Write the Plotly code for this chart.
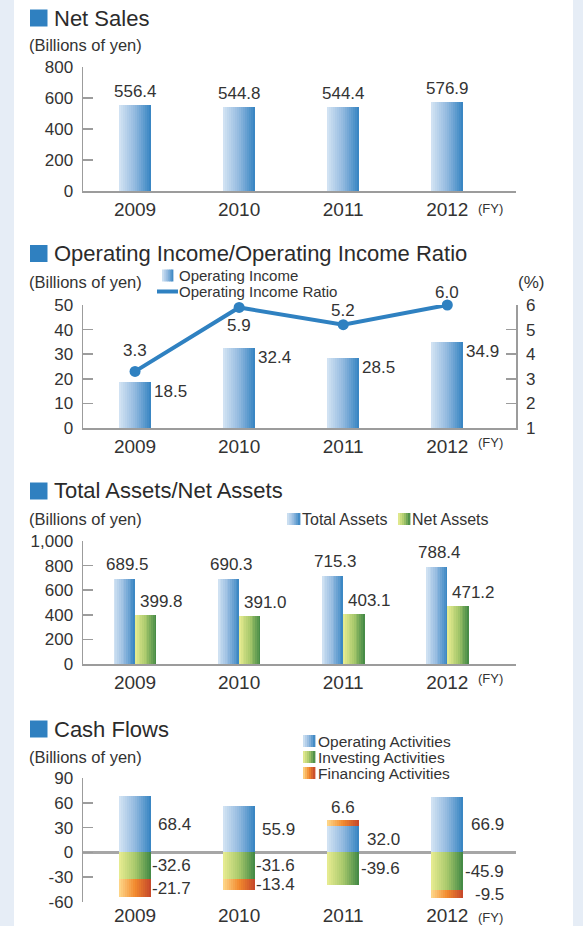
import plotly.graph_objects as go

W, H = 583, 926

# ---------------- data ----------------
years = ["2009", "2010", "2011", "2012"]
net_sales = [556.4, 544.8, 544.4, 576.9]
op_income = [18.5, 32.4, 28.5, 34.9]
op_ratio = [3.3, 5.9, 5.2, 6.0]
total_assets = [689.5, 690.3, 715.3, 788.4]
net_assets = [399.8, 391.0, 403.1, 471.2]
cf_operating = [68.4, 55.9, 32.0, 66.9]
cf_investing = [-32.6, -31.6, -39.6, -45.9]
cf_financing = [-21.7, -13.4, 6.6, -9.5]

titles = ["Net Sales", "Operating Income/Operating Income Ratio",
          "Total Assets/Net Assets", "Cash Flows"]
unit_label = "(Billions of yen)"
cf_ticks = [-60, -30, 0, 30, 60, 90]

# ---------------- style ----------------
FONT = "Liberation Sans"
TXT = "#333333"
AX = "#9c9c9c"
BLUE = ["#d5e5f4", "#92b9df", "#3483c1"]
GREEN = ["#e9ed92", "#a9c96c", "#3f8744"]
ORANGE = ["#fed98c", "#f28a2e", "#c4462a"]
LINE_BLUE = "#2f81c1"
ICON = "#2f80c0"
ratio_label_shift = [21, -18, 14, 13]


def px(x):
    return x / W


def py(y):
    return 1 - y / H


def hex2rgb(h):
    h = h.lstrip("#")
    return [int(h[i:i + 2], 16) for i in (0, 2, 4)]


def colour(stops, t):
    n = len(stops) - 1
    k = min(int(t * n), n - 1)
    f = t * n - k
    a, b = hex2rgb(stops[k]), hex2rgb(stops[k + 1])
    c = [round(a[j] + (b[j] - a[j]) * f) for j in range(3)]
    return "rgb(%d,%d,%d)" % tuple(c)


fig = go.Figure()


def grad_bar(x, y, base, xa, ya, off, width, stops, n=16):
    step = width / n
    for i in range(n):
        fig.add_trace(go.Bar(
            x=x, y=y, base=base, xaxis=xa, yaxis=ya,
            offset=off + i * step,
            width=step * 1.2 if i < n - 1 else step,
            marker=dict(color=colour(stops, (i + 0.5) / n), line=dict(width=0)),
            opacity=1, showlegend=False, hoverinfo="skip"))


annotations = []


def ann(text, x, y, xref="paper", yref="paper", size=17, xanchor="center",
        yanchor="middle", xshift=0, yshift=0, color=TXT):
    annotations.append(dict(text=text, x=x, y=y, xref=xref, yref=yref,
                            showarrow=False, xanchor=xanchor, yanchor=yanchor,
                            xshift=xshift, yshift=yshift,
                            font=dict(size=size, color=color, family=FONT)))


shapes = []


def grad_rect(x0, x1, y0, y1, stops, n=10):
    step = (x1 - x0) / n
    for i in range(n):
        shapes.append(dict(type="rect", xref="paper", yref="paper",
                           x0=px(x0 + i * step), x1=px(x0 + (i + 1) * step + 0.4),
                           y0=py(y1), y1=py(y0), line=dict(width=0),
                           fillcolor=colour(stops, (i + 0.5) / n)))


# background: white page with pale side strips
shapes.append(dict(type="rect", xref="paper", yref="paper", x0=px(14), x1=px(573),
                   y0=0, y1=1, fillcolor="white", line=dict(width=0), layer="below"))

# ---------------- chart 1: Net Sales ----------------
grad_bar(years, net_sales, 0, "x", "y", -0.155, 0.31, BLUE)
for i, v in enumerate(net_sales):
    ann(f"{v:.1f}", i, v, "x", "y", yanchor="bottom", yshift=2)

# ---------------- chart 2: Operating income ----------------
grad_bar(years, op_income, 0, "x2", "y2", -0.155, 0.31, BLUE)
for i, v in enumerate(op_income):
    ann(f"{v:.1f}", i + 0.155, v, "x2", "y2", xanchor="left", yanchor="top",
        xshift=1, yshift=2)
fig.add_trace(go.Scatter(
    x=years, y=op_ratio, xaxis="x2", yaxis="y5", mode="lines+markers",
    line=dict(color=LINE_BLUE, width=4),
    marker=dict(color=LINE_BLUE, size=11),
    cliponaxis=False, showlegend=False, hoverinfo="skip"))
for i, v in enumerate(op_ratio):
    ann(f"{v:.1f}", i, v, "x2", "y5", yshift=ratio_label_shift[i])

# ---------------- chart 3: Total / Net assets ----------------
grad_bar(years, total_assets, 0, "x3", "y3", -0.205, 0.205, BLUE, n=12)
grad_bar(years, net_assets, 0, "x3", "y3", 0.0, 0.205, GREEN, n=12)
for i, v in enumerate(total_assets):
    ann(f"{v:.1f}", i - 0.1, v, "x3", "y3", yanchor="bottom", xshift=3, yshift=3)
for i, v in enumerate(net_assets):
    ann(f"{v:.1f}", i, v, "x3", "y3", xanchor="left", yanchor="bottom",
        xshift=3, yshift=2)

# ---------------- chart 4: Cash flows ----------------
fin_base = [o if f > 0 else inv for o, inv, f in zip(cf_operating, cf_investing, cf_financing)]
grad_bar(years, cf_operating, 0, "x4", "y4", -0.155, 0.31, BLUE)
grad_bar(years, cf_investing, 0, "x4", "y4", -0.155, 0.31, GREEN)
grad_bar(years, cf_financing, fin_base, "x4", "y4", -0.155, 0.31, ORANGE)
for i, v in enumerate(cf_operating):
    ann(f"{v:.1f}", i + 0.56, v / 2, "x4", "y4", xanchor="right")
for i, v in enumerate(cf_investing):
    ann(f"{v:.1f}", i + 0.56, v / 2, "x4", "y4", xanchor="right")
for i, v in enumerate(cf_financing):
    if v > 0:
        ann(f"{v:.1f}", i, fin_base[i] + v, "x4", "y4", yanchor="bottom", yshift=1)
    else:
        ann(f"{v:.1f}", i + 0.56, fin_base[i] + v / 2, "x4", "y4", xanchor="right")

# ---------------- titles, units, legends ----------------
title_y = [18, 253.5, 491, 729]
unit_y = [45, 282, 519, 757]
for t, ty, uy in zip(titles, title_y, unit_y):
    shapes.append(dict(type="rect", xref="paper", yref="paper", x0=px(30), x1=px(47.5),
                       y0=py(ty + 8.5), y1=py(ty - 8.5), fillcolor=ICON, line=dict(width=0)))
    ann(t, px(52), py(ty), size=22, xanchor="left", color="#2b2b2b")
    ann(unit_label, px(27), py(uy), size=16.5, xanchor="left")

fy_y = [208, 442, 678, 917]
for fy in fy_y:
    ann("(FY)", px(476), py(fy), size=13, xanchor="left")

ann("(%)", px(531), py(282), size=17)

# chart 2 legend
grad_rect(162, 173, 269.5, 281.5, BLUE, n=6)
ann("Operating Income", px(177), py(275.5), size=15, xanchor="left")
shapes.append(dict(type="line", xref="paper", yref="paper", x0=px(157), x1=px(178),
                   y0=py(291.5), y1=py(291.5), line=dict(color=LINE_BLUE, width=4)))
ann("Operating Income Ratio", px(177), py(291.5), size=15, xanchor="left")

# chart 3 legend
grad_rect(287, 300, 513, 525, BLUE, n=6)
ann("Total Assets", px(300), py(519), size=16, xanchor="left")
grad_rect(398, 410, 513, 525, GREEN, n=6)
ann("Net Assets", px(410), py(519), size=16, xanchor="left")

# chart 4 legend
for (lbl, stops, yy) in [("Operating Activities", BLUE, 741),
                         ("Investing Activities", GREEN, 757),
                         ("Financing Activities", ORANGE, 773)]:
    grad_rect(303, 315, yy - 6, yy + 6, stops, n=6)
    ann(lbl, px(316), py(yy), size=15.5, xanchor="left")

# ---------------- axes ----------------
xdom = [px(83), px(516)]


def xaxis(anchor, showline=True):
    return dict(domain=xdom, anchor=anchor, type="category", range=[-0.5, 3.66],
                showline=showline, linecolor=AX, linewidth=2, ticks="",
                showgrid=False, zeroline=False, fixedrange=True, automargin=False,
                tickfont=dict(size=19, color=TXT, family=FONT))


def yaxis(anchor, dom, rng, dtick, **kw):
    d = dict(domain=dom, anchor=anchor, range=rng, dtick=dtick, showline=True,
             linecolor=AX, linewidth=1.5, ticks="inside", ticklen=10, tickcolor=AX,
             tickwidth=1.5, showgrid=False, zeroline=False, fixedrange=True,
             automargin=False,
             ticklabelstandoff=5, tickfont=dict(size=17, color=TXT, family=FONT))
    d.update(kw)
    return d


fig.update_layout(
    width=W, height=H,
    margin=dict(l=0, r=0, t=0, b=0, pad=0, autoexpand=False),
    paper_bgcolor="#e6edf6", plot_bgcolor="rgba(0,0,0,0)",
    barmode="overlay", bargap=0, showlegend=False,
    font=dict(family=FONT, color=TXT),
    xaxis=xaxis("y"),
    yaxis=yaxis("x", [py(191), py(67)], [0, 800], 200),
    xaxis2=xaxis("y2"),
    yaxis2=yaxis("x2", [py(428), py(305)], [0, 50], 10),
    yaxis5=yaxis("x2", [py(428), py(305)], [1, 6], 1, overlaying="y2", side="right"),
    xaxis3=xaxis("y3"),
    yaxis3=yaxis("x3", [py(664), py(541)], [0, 1000], 200, tickformat=","),
    xaxis4=xaxis("y4", showline=False),
    yaxis4=yaxis("x4", [py(902), py(778)], [-60, 90], 30, zeroline=True,
                 tickmode="array", tickvals=cf_ticks,
                 ticktext=[str(v) for v in cf_ticks],
                 zerolinecolor="#a6a6a6", zerolinewidth=2.5),
    shapes=shapes, annotations=annotations,
)

fig.write_html(
    "out.html",
    config={"displayModeBar": False, "staticPlot": True},
    post_script="document.body.style.margin='0';document.body.style.padding='0';"
                "document.documentElement.style.overflow='hidden';",
)
